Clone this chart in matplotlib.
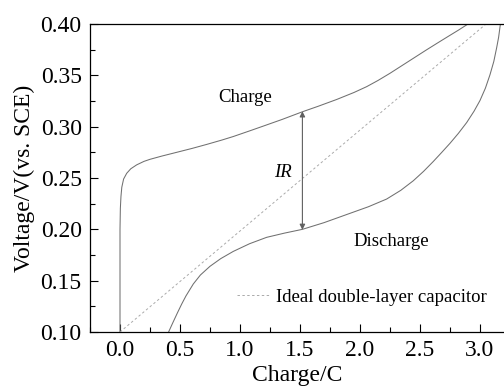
import matplotlib
matplotlib.use("Agg")
import matplotlib.pyplot as plt
from matplotlib.ticker import MultipleLocator

# Charge / discharge curves
charge_x = [0.0, 0.0, 0.003, 0.008, 0.015, 0.03, 0.056, 0.09, 0.139, 0.2, 0.25,
            0.35, 0.472, 0.6, 0.722, 0.85, 0.944, 1.083, 1.2, 1.35, 1.52, 1.65,
            1.806, 1.95, 2.056, 2.15, 2.25, 2.35, 2.45, 2.55, 2.65, 2.75, 2.82, 2.90]
charge_y = [0.100, 0.200, 0.2205, 0.232, 0.241, 0.249, 0.2546, 0.259, 0.2628,
            0.2662, 0.2682, 0.2714, 0.275, 0.2788, 0.2827, 0.287, 0.2904, 0.296,
            0.3008, 0.307, 0.3145, 0.3198, 0.3265, 0.3333, 0.339, 0.345, 0.352,
            0.3595, 0.367, 0.3745, 0.3818, 0.389, 0.394, 0.400]

discharge_x = [0.405, 0.44, 0.48, 0.514, 0.55, 0.611, 0.67, 0.75, 0.84, 0.944,
               1.08, 1.222, 1.37, 1.52, 1.7, 1.917, 2.07, 2.222, 2.34, 2.444,
               2.53, 2.61, 2.68, 2.75, 2.82, 2.889, 2.95, 3.0, 3.045, 3.083,
               3.115, 3.139, 3.155, 3.17]
discharge_y = [0.100, 0.109, 0.119, 0.1272, 0.1352, 0.1468, 0.1555, 0.164, 0.1715,
               0.1785, 0.186, 0.1922, 0.1963, 0.200, 0.2065, 0.2156, 0.222, 0.2295,
               0.238, 0.2473, 0.2565, 0.266, 0.2748, 0.2838, 0.2935, 0.304, 0.315,
               0.3255, 0.3375, 0.3505, 0.3635, 0.377, 0.387, 0.400]

# Ideal double-layer capacitor (straight line)
ideal_x = [0.0, 3.05]
ideal_y = [0.10, 0.40]

# IR drop arrow
ir_x = 1.52
ir_top = 0.315
ir_bottom = 0.1995

plt.rcParams['font.family'] = ['Liberation Serif', 'DejaVu Serif']

fig = plt.figure(figsize=(5.04, 3.87), dpi=100)
ax = fig.add_axes([90/504, 1 - 332/387, 414/504, 308/387])

ax.plot(charge_x, charge_y, color='#707070', lw=0.75)
ax.plot(discharge_x, discharge_y, color='#707070', lw=0.75)
ideal, = ax.plot(ideal_x, ideal_y, color='#aaaaaa', lw=0.7, ls=(0, (2.5, 2.5)),
                 label='Ideal double-layer capacitor')

ax.annotate('', xy=(ir_x, ir_top), xytext=(ir_x, ir_bottom),
            arrowprops=dict(arrowstyle='<|-|>', color='#606060', lw=0.8,
                            mutation_scale=8, shrinkA=0, shrinkB=0))

ax.text(1.36, 0.255, 'IR', fontsize=13.5, style='italic', ha='center', va='center')
ax.text(1.04, 0.328, 'Charge', fontsize=13.5, ha='center', va='center')
ax.text(2.26, 0.188, 'Discharge', fontsize=13.5, ha='center', va='center')

ax.legend(handles=[ideal], frameon=False, fontsize=13.5, loc='center left',
          bbox_to_anchor=((236.7 - 90) / 414, (332 - 297.3) / 308),
          borderaxespad=0, borderpad=0, handlelength=1.76, handletextpad=0.32)

ax.set_xlim(-0.25, 3.2)
ax.set_ylim(0.10, 0.40)
ax.xaxis.set_major_locator(MultipleLocator(0.5))
ax.xaxis.set_minor_locator(MultipleLocator(0.25))
ax.yaxis.set_major_locator(MultipleLocator(0.05))
ax.yaxis.set_minor_locator(MultipleLocator(0.025))
ax.xaxis.set_major_formatter(plt.FormatStrFormatter('%.1f'))
ax.yaxis.set_major_formatter(plt.FormatStrFormatter('%.2f'))
ax.tick_params(which='both', direction='in', labelsize=17, width=0.8)
ax.tick_params(which='major', length=6, pad=6)
ax.tick_params(which='minor', length=3.5)
ax.spines['right'].set_visible(False)
for s in ['left', 'bottom', 'top']:
    ax.spines[s].set_linewidth(0.9)

ax.set_xlabel('Charge/C', fontsize=17, labelpad=3)
ax.set_ylabel('Voltage/V(vs. SCE)', fontsize=17, labelpad=4)

fig.savefig('out.png', dpi=100)
